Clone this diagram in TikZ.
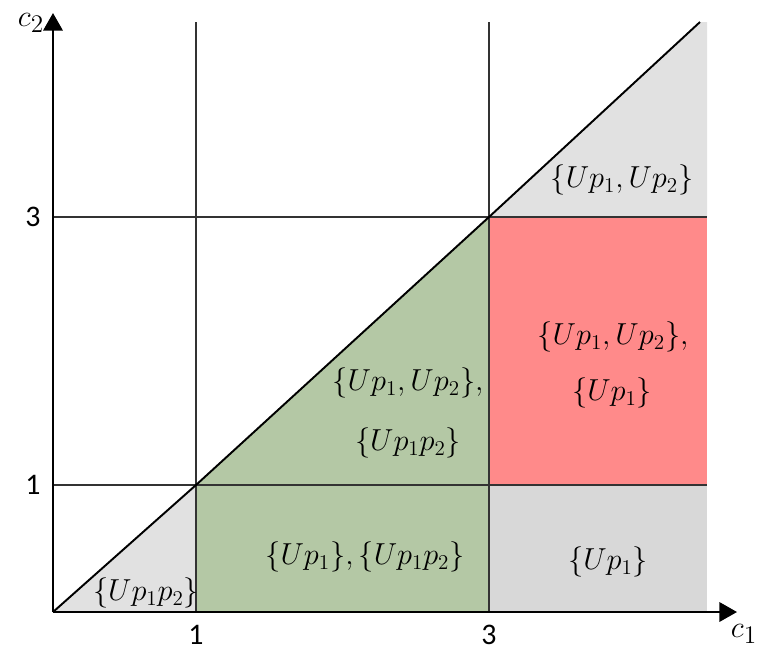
\documentclass[tikz,border=0pt]{standalone}
\usepackage{amsmath}
\usepackage{fontspec}
\setsansfont{Carlito}
\usepackage{tikz}
\usetikzlibrary{arrows.meta}

\definecolor{lightgrey}{RGB}{225,225,225}
\definecolor{darkgrey}{RGB}{216,216,216}
\definecolor{regiongreen}{RGB}{180,200,165}
\definecolor{regionred}{RGB}{255,138,138}

\tikzset{
    setlabel/.style={font=\fontsize{16.5}{19}\selectfont, inner sep=0pt},
    axislabel/.style={font=\fontsize{19}{22}\selectfont, inner sep=0pt},
    ticklabel/.style={font=\sffamily\fontsize{17}{20}\selectfont, inner sep=0pt},
    gridline/.style={black!80, line width=0.6pt},
    axis/.style={line width=1.3pt, -{Triangle[width=11pt, length=10pt]}}
}

\begin{document}
\begin{tikzpicture}[x=0.02cm, y=-0.02cm]
    \useasboundingbox (0,0) rectangle (757,653);

    % Corners of the plane
    \coordinate (O) at (53,612);
    \coordinate (A) at (196,485);
    \coordinate (B) at (489,217);
    \coordinate (T) at (700,22);

    % Regions
    \fill[lightgrey] (B) -- (T) -- (707,22) -- (707,217) -- cycle;
    \fill[regionred] (489,217) rectangle (707,485);
    \fill[darkgrey] (489,485) rectangle (707,612);
    \fill[regiongreen] (A) -- (B) -- (489,612) -- (196,612) -- cycle;
    \fill[lightgrey] (O) -- (A) -- (196,612) -- cycle;

    % Grid
    \draw[gridline] (196,22) -- (196,612);
    \draw[gridline] (489,22) -- (489,612);
    \draw[gridline] (53,217) -- (707,217);
    \draw[gridline] (53,485) -- (707,485);

    % Diagonal
    \draw[line width=1.1pt] (O) -- (A) -- (B) -- (T);

    % Axes
    \draw[axis] (O) -- (737,612);
    \draw[axis] (O) -- (53,13);
    \node[axislabel] at (31,23) {$c_2$};
    \node[axislabel] at (744,634) {$c_1$};

    % Ticks
    \node[ticklabel] at (196,635) {1};
    \node[ticklabel] at (489,635) {3};
    \node[ticklabel] at (33,217) {3};
    \node[ticklabel] at (33,485) {1};

    % Sets
    \node[setlabel] at (622,180) {$\{Up_1,Up_2\}$};
    \node[setlabel] at (613,337) {$\{Up_1,Up_2\},$};
    \node[setlabel] at (612,393) {$\{Up_1\}$};
    \node[setlabel] at (408,383) {$\{Up_1,Up_2\},$};
    \node[setlabel] at (408,443) {$\{Up_1p_2\}$};
    \node[setlabel] at (365,557) {$\{Up_1\},\{Up_1p_2\}$};
    \node[setlabel] at (608,562) {$\{Up_1\}$};
    \node[setlabel] at (146,593) {$\{Up_1p_2\}$};
\end{tikzpicture}
\end{document}
